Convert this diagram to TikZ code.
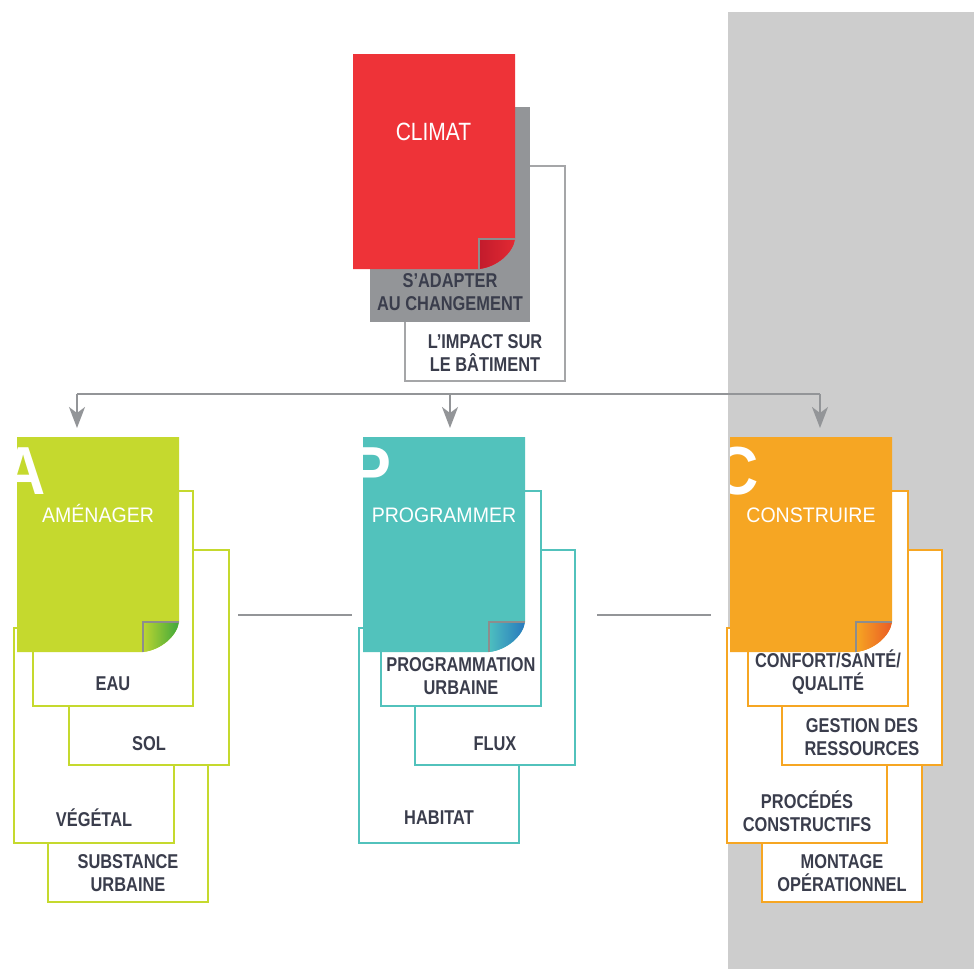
\documentclass[tikz,border=0pt]{standalone}
\usepackage{fontspec}
\setmainfont{Liberation Sans}
\newfontfamily\labfont[FakeStretch=0.82]{Liberation Sans}
\newfontfamily\titfont[FakeStretch=0.93]{Liberation Sans}
\newfontfamily\climfont[FakeStretch=0.84]{Liberation Sans}
\newfontfamily\bigfont[FakeStretch=0.9]{Liberation Sans}
\usetikzlibrary{arrows.meta}
\definecolor{bggray}{HTML}{CDCDCD}
\definecolor{climred}{HTML}{EE3338}
\definecolor{adaptgray}{HTML}{939598}
\definecolor{impactgray}{HTML}{A5A6A8}
\definecolor{agreen}{HTML}{C5D92E}
\definecolor{ateal}{HTML}{52C2BC}
\definecolor{aorange}{HTML}{F6A623}
\definecolor{labdark}{HTML}{3A3D4C}
\definecolor{conngray}{HTML}{939598}
\definecolor{flapgray}{HTML}{8D8D8D}
\definecolor{redA}{HTML}{C21B2C}
\definecolor{redB}{HTML}{E32A33}
\definecolor{greenA}{HTML}{BCD531}
\definecolor{greenB}{HTML}{3EA83C}
\definecolor{tealA}{HTML}{4DBFBF}
\definecolor{tealB}{HTML}{2878BE}
\definecolor{orangeA}{HTML}{F6A623}
\definecolor{orangeB}{HTML}{EA5B25}
\tikzset{
  box/.style={draw=#1, fill=white, line width=2pt, minimum width=160pt, minimum height=215pt, inner sep=0pt, outer sep=0pt, anchor=north west},
  sqnode/.style={minimum width=162pt, minimum height=215pt, inner sep=0pt, outer sep=0pt, anchor=north west},
  lab/.style={font=\labfont\bfseries\fontsize{20}{23}\selectfont, text=labdark, align=center, inner sep=0pt, anchor=south},
  titlelab/.style={font=\titfont\fontsize{21}{24}\selectfont, text=white, inner sep=0pt, anchor=base},
  bigletter/.style={font=\bigfont\bfseries\fontsize{68}{70}\selectfont, text=white, inner sep=0pt, anchor=base east},
  conn/.style={draw=conngray, line width=2pt},
  arr/.style={conn, -{Stealth[length=21pt,width=16pt,inset=6pt]}},
  flapline/.style={draw=flapgray, line width=1.5pt},
}
\newcommand\papersheet[4]{%
  \begin{scope}[shift={(#1.north west)}]
    \fill[#2] (0,0) -- (162,0) -- (162,185) .. controls (160,199) and (144,213) .. (126,215) -- (0,215) -- cycle;
    \shade[left color=#3, right color=#4] (126,185) -- (162,185) .. controls (160,199) and (144,213) .. (126,215) -- cycle;
    \draw[flapline] (126,215) -- (126,185) -- (162,185);
  \end{scope}}
\newcommand\sheetletter[3]{%
  \begin{scope}[shift={(#1.north west)}]
    \clip (0,0) rectangle (162,215);
    \node[bigletter] (#2) at (29,57) {#3};
  \end{scope}}
\begin{document}
\begin{tikzpicture}[x=1pt,y=-1pt]
\useasboundingbox (0,0) rectangle (974,969);
% gray background band
\fill[bggray] (728,12) rectangle (974,969);

% ---------- top group ----------
\node[box=impactgray] (impact) at (405,166) {};
\node[box=adaptgray, fill=adaptgray, draw=none] (adapt) at (370,107) {};
\node[sqnode] (clim) at (353,54) {};
\papersheet{clim}{climred}{redA}{redB}
\node[titlelab, font=\climfont\fontsize{25}{28}\selectfont] (climT) at (433.5,140) {CLIMAT};

% ---------- connectors ----------
\coordinate (hubL) at (77,394);
\coordinate (hubM) at (450,394);
\coordinate (hubR) at (820,394);
\coordinate (tipA) at (77,428);
\coordinate (tipP) at (450,428);
\coordinate (tipC) at (820,428);
\draw[conn] (hubL) -- (hubR);
\draw[arr] (hubL) -- (tipA);
\draw[arr] (hubM) -- (tipP);
\draw[arr] (hubR) -- (tipC);

\coordinate (linkAPa) at (238,615);
\coordinate (linkAPb) at (352,615);
\coordinate (linkPCa) at (597,615);
\coordinate (linkPCb) at (711,615);
\draw[conn] (linkAPa) -- (linkAPb);
\draw[conn] (linkPCa) -- (linkPCb);

% ---------- group A ----------
\node[box=agreen] (subs) at (48,687) {};
\node[box=agreen] (veg) at (14,628) {};
\node[box=agreen] (sol) at (69,550) {};
\node[box=agreen] (eau) at (33,491) {};
\node[sqnode] (amen) at (17,437) {};
\papersheet{amen}{agreen}{greenA}{greenB}
\sheetletter{amen}{amenL}{A}
\node[titlelab] (amenT) at (98,522) {AMÉNAGER};

% ---------- group P ----------
\node[box=ateal] (hab) at (359,628) {};
\node[box=ateal] (flux) at (415,550) {};
\node[box=ateal] (progu) at (381,491) {};
\node[sqnode] (prog) at (363,437) {};
\papersheet{prog}{ateal}{tealA}{tealB}
\sheetletter{prog}{progL}{P}
\node[titlelab] (progT) at (444,522) {PROGRAMMER};

% ---------- group C ----------
\node[box=aorange] (mont) at (762,687) {};
\node[box=aorange] (proc) at (727,628) {};
\node[box=aorange] (gest) at (782,550) {};
\node[box=aorange] (conf) at (748,491) {};
\node[sqnode] (cons) at (730,437) {};
\papersheet{cons}{aorange}{orangeA}{orangeB}
\sheetletter{cons}{consL}{C}
\node[titlelab] (consT) at (811,522) {CONSTRUIRE};

% ---------- labels ----------
\node[lab] (adaptT) at ([yshift=11pt]adapt.south) {S’ADAPTER\\AU CHANGEMENT};
\node[lab] (impactT) at ([yshift=9pt]impact.south) {L’IMPACT SUR\\LE BÂTIMENT};
\node[lab] (eauT) at ([yshift=15pt]eau.south) {EAU};
\node[lab] (solT) at ([yshift=14pt]sol.south) {SOL};
\node[lab] (vegT) at ([yshift=16pt]veg.south) {VÉGÉTAL};
\node[lab] (subsT) at ([yshift=10pt]subs.south) {SUBSTANCE\\URBAINE};
\node[lab] (proguT) at ([yshift=11pt]progu.south) {PROGRAMMATION\\URBAINE};
\node[lab] (fluxT) at ([yshift=14pt]flux.south) {FLUX};
\node[lab] (habT) at ([yshift=18pt]hab.south) {HABITAT};
\node[lab] (confT) at ([yshift=11pt]conf.south) {CONFORT/SANTÉ/\\QUALITÉ};
\node[lab] (gestT) at ([yshift=9pt]gest.south) {GESTION DES\\RESSOURCES};
\node[lab] (procT) at ([yshift=11pt]proc.south) {PROCÉDÉS\\CONSTRUCTIFS};
\node[lab] (montT) at ([yshift=10pt]mont.south) {MONTAGE\\OPÉRATIONNEL};
\end{tikzpicture}
\end{document}
